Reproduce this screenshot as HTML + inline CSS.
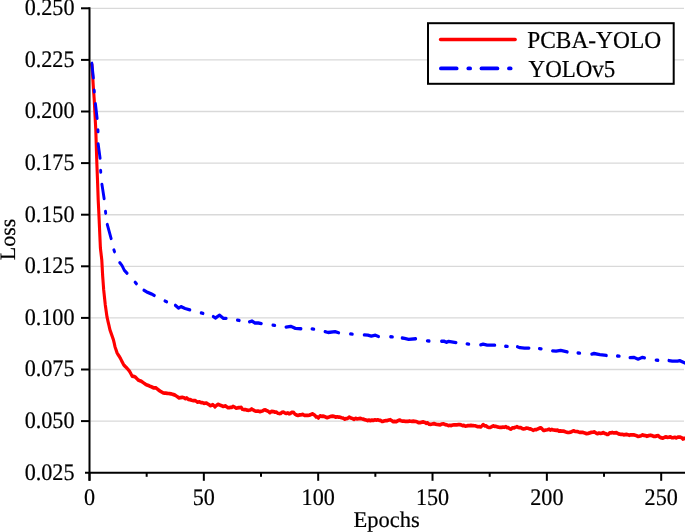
<!DOCTYPE html>
<html><head><meta charset="utf-8"><style>html,body{margin:0;padding:0;background:#fff;width:685px;height:532px;overflow:hidden}text{font-family:"Liberation Serif",serif;fill:#000;stroke:#000;stroke-width:0.2px;text-rendering:geometricPrecision}</style></head>
<body>
<svg width="685" height="532" viewBox="0 0 685 532" style="position:absolute;left:0;top:0;filter:blur(0.45px)">
<rect width="685" height="532" fill="#fff"/>
<line x1="90.5" y1="421.10" x2="684" y2="421.10" stroke="#d9d9d9" stroke-width="1.35"/>
<line x1="90.5" y1="369.50" x2="684" y2="369.50" stroke="#d9d9d9" stroke-width="1.35"/>
<line x1="90.5" y1="317.90" x2="684" y2="317.90" stroke="#d9d9d9" stroke-width="1.35"/>
<line x1="90.5" y1="266.30" x2="684" y2="266.30" stroke="#d9d9d9" stroke-width="1.35"/>
<line x1="90.5" y1="214.70" x2="684" y2="214.70" stroke="#d9d9d9" stroke-width="1.35"/>
<line x1="90.5" y1="163.10" x2="684" y2="163.10" stroke="#d9d9d9" stroke-width="1.35"/>
<line x1="90.5" y1="111.50" x2="684" y2="111.50" stroke="#d9d9d9" stroke-width="1.35"/>
<line x1="90.5" y1="59.90" x2="684" y2="59.90" stroke="#d9d9d9" stroke-width="1.35"/>
<line x1="90.5" y1="8.30" x2="684" y2="8.30" stroke="#d9d9d9" stroke-width="1.35"/>
<g transform="scale(1,1.2)">
<path d="M91.90,53.75 L91.99,54.84 L92.08,55.94 L92.16,57.03 L92.25,58.12 L92.34,59.22 L92.42,60.31 L92.51,61.41 L92.60,62.50 L92.68,63.58 L92.76,64.67 L92.84,65.75 L92.92,66.83 L93.00,67.92 L93.08,69.00 L93.16,70.08 L93.24,71.17 L93.32,72.25 L93.40,73.33 L93.49,74.44 L93.59,75.56 L93.68,76.67 L93.78,77.78 L93.87,78.89 L93.97,80.00 L94.06,81.11 L94.16,82.22 L94.25,83.33 L94.32,84.47 L94.39,85.61 L94.45,86.74 L94.52,87.88 L94.59,89.02 L94.66,90.15 L94.73,91.29 L94.80,92.42 L94.86,93.56 L94.93,94.70 L95.00,95.83 L95.07,96.97 L95.15,98.11 L95.22,99.24 L95.29,100.38 L95.36,101.52 L95.44,102.65 L95.51,103.79 L95.58,104.92 L95.65,106.06 L95.73,107.20 L95.80,108.33 L95.84,109.44 L95.88,110.56 L95.92,111.67 L95.97,112.78 L96.01,113.89 L96.05,115.00 L96.09,116.11 L96.13,117.22 L96.17,118.33 L96.22,119.44 L96.26,120.56 L96.30,121.67 L96.34,122.78 L96.38,123.89 L96.42,125.00 L96.47,126.11 L96.51,127.22 L96.55,128.33 L96.59,129.44 L96.63,130.56 L96.67,131.67 L96.72,132.78 L96.76,133.89 L96.80,135.00 L96.85,136.15 L96.91,137.31 L96.96,138.46 L97.02,139.62 L97.07,140.77 L97.12,141.92 L97.18,143.08 L97.23,144.23 L97.28,145.38 L97.34,146.54 L97.39,147.69 L97.45,148.85 L97.50,150.00 L97.55,151.11 L97.59,152.22 L97.64,153.33 L97.69,154.44 L97.73,155.56 L97.78,156.67 L97.83,157.78 L97.87,158.89 L97.92,160.00 L97.97,161.11 L98.01,162.22 L98.06,163.33 L98.11,164.44 L98.15,165.56 L98.20,166.67 L98.27,167.78 L98.33,168.89 L98.40,170.00 L98.47,171.11 L98.53,172.22 L98.60,173.33 L98.67,174.44 L98.73,175.56 L98.80,176.67 L98.86,177.82 L98.92,178.97 L98.98,180.13 L99.05,181.28 L99.11,182.44 L99.17,183.59 L99.23,184.74 L99.29,185.90 L99.35,187.05 L99.42,188.21 L99.48,189.36 L99.54,190.51 L99.60,191.67 L99.66,192.82 L99.72,193.97 L99.78,195.13 L99.85,196.28 L99.91,197.44 L99.97,198.59 L100.03,199.74 L100.09,200.90 L100.15,202.05 L100.22,203.21 L100.28,204.36 L100.34,205.51 L100.40,206.67 L100.56,207.78 L100.71,208.89 L100.87,210.00 L101.02,211.11 L101.18,212.22 L101.33,213.33 L101.49,214.44 L101.64,215.56 L101.80,216.67 L101.87,217.80 L101.95,218.94 L102.02,220.08 L102.09,221.21 L102.16,222.35 L102.24,223.48 L102.31,224.62 L102.38,225.76 L102.45,226.89 L102.53,228.03 L102.60,229.17 L102.70,230.30 L102.80,231.44 L102.90,232.58 L103.00,233.71 L103.10,234.85 L103.20,235.98 L103.30,237.12 L103.40,238.26 L103.50,239.39 L103.60,240.53 L103.70,241.67 L103.85,242.80 L103.99,243.94 L104.14,245.08 L104.28,246.21 L104.43,247.35 L104.57,248.48 L104.72,249.62 L104.86,250.76 L105.01,251.89 L105.15,253.03 L105.30,254.17 L105.49,255.28 L105.68,256.39 L105.87,257.50 L106.06,258.61 L106.24,259.72 L106.43,260.83 L106.62,261.94 L106.81,263.06 L107.00,264.17 L107.30,265.25 L107.60,266.33 L107.90,267.42 L108.20,268.50 L108.50,269.58 L108.80,270.67 L109.10,271.75 L109.40,272.83 L109.70,273.92 L110.00,275.00 L110.44,276.04 L110.88,277.08 L111.31,278.12 L111.75,279.17 L112.19,280.21 L112.62,281.25 L113.06,282.29 L113.50,283.33 L113.82,284.52 L114.14,285.70 L114.46,286.88 L114.78,288.07 L115.10,289.25 L115.60,290.48 L116.10,291.71 L116.60,292.94 L117.10,294.17 L117.92,295.27 L118.75,296.38 L119.58,297.48 L120.40,298.58 L121.06,299.68 L121.72,300.78 L122.38,301.88 L123.04,302.98 L123.70,304.08 L124.80,305.00 L125.90,305.92 L127.00,306.83 L127.87,307.72 L128.73,308.61 L129.60,309.50 L130.25,310.48 L130.90,311.46 L131.55,312.44 L132.20,313.42 L133.55,313.67 L134.90,313.92 L136.00,314.83 L137.10,315.75 L138.20,316.67 L139.80,317.21 L141.40,317.75 L142.73,318.56 L144.07,319.36 L145.40,320.17 L146.93,320.75 L148.47,321.33 L150.00,321.92 L151.30,322.36 L152.60,322.81 L153.90,323.25 L155.90,323.25 L157.00,323.97 L158.10,324.69 L159.20,325.42 L160.53,326.08 L161.87,326.75 L163.20,327.42 L164.50,327.54 L165.80,327.67 L167.10,327.79 L168.40,327.92 L169.70,328.04 L171.00,328.17 L172.33,328.53 L173.67,328.89 L175.00,329.25 L176.30,330.00 L177.60,330.75 L178.90,331.50 L180.60,331.29 L182.30,331.08 L183.80,331.42 L185.30,332.23 L186.75,331.61 L188.20,332.76 L189.95,333.03 L191.70,333.56 L193.45,333.91 L195.20,333.78 L197.50,335.20 L199.25,334.80 L201.00,335.53 L202.45,335.51 L203.90,336.08 L206.30,335.85 L207.67,336.51 L209.03,337.17 L210.40,338.08 L212.70,337.28 L213.85,337.94 L215.00,339.06 L216.50,337.83 L218.00,336.92 L220.30,337.69 L221.75,338.21 L223.20,338.72 L225.50,338.29 L226.70,338.96 L227.90,339.78 L229.10,339.77 L230.43,339.44 L231.77,339.40 L233.10,338.63 L234.60,339.27 L236.10,340.04 L237.43,339.86 L238.77,339.63 L240.10,339.66 L241.27,339.51 L242.43,341.07 L243.60,341.28 L245.40,341.24 L247.20,341.81 L248.65,341.91 L250.10,341.65 L251.80,340.83 L253.25,341.67 L254.70,342.24 L256.02,342.70 L257.35,342.67 L258.68,342.67 L260.00,343.01 L262.30,342.54 L263.80,341.74 L265.30,341.47 L266.45,342.09 L267.60,342.53 L268.75,343.03 L269.90,343.89 L271.65,342.75 L273.40,342.99 L274.88,343.45 L276.35,343.45 L277.82,344.35 L279.30,344.61 L280.67,344.59 L282.03,343.53 L283.40,343.37 L284.85,344.10 L286.30,344.56 L287.75,344.14 L289.20,344.88 L290.37,344.49 L291.53,343.69 L292.70,343.62 L293.87,343.89 L295.03,345.17 L296.20,345.76 L297.95,346.20 L299.70,345.74 L301.27,345.66 L302.83,345.35 L304.40,346.14 L306.15,346.05 L307.90,346.18 L309.47,345.93 L311.03,345.41 L312.60,344.85 L313.76,345.50 L314.92,346.18 L316.08,347.37 L317.24,347.39 L318.40,348.28 L319.25,347.38 L320.10,346.55 L321.47,346.94 L322.83,346.82 L324.20,347.01 L325.70,347.58 L327.20,348.03 L328.50,347.68 L329.80,347.30 L331.10,346.93 L332.40,346.82 L334.15,347.03 L335.90,347.61 L337.27,347.31 L338.63,347.61 L340.00,347.64 L341.57,348.13 L343.13,348.39 L344.70,349.26 L346.23,348.79 L347.77,348.57 L349.30,347.52 L350.87,348.37 L352.43,348.75 L354.00,349.46 L355.57,348.58 L357.13,349.16 L358.70,348.92 L360.15,348.61 L361.60,348.94 L363.05,349.23 L364.50,349.68 L365.98,349.98 L367.45,350.48 L368.92,350.12 L370.40,350.51 L371.93,350.15 L373.47,350.30 L375.00,349.84 L376.37,350.19 L377.73,349.83 L379.10,350.25 L380.47,350.31 L381.83,351.06 L383.20,351.07 L384.60,350.66 L386.00,350.44 L387.40,350.48 L388.80,350.02 L390.20,349.78 L391.68,350.51 L393.15,351.37 L394.62,351.13 L396.10,351.45 L397.85,350.69 L399.60,350.02 L401.00,350.62 L402.40,350.87 L403.80,350.84 L405.20,351.08 L406.60,351.19 L407.95,351.20 L409.30,350.81 L410.65,351.06 L412.00,351.19 L413.35,350.98 L414.70,351.06 L416.02,351.27 L417.35,351.67 L418.68,352.24 L420.00,352.24 L421.75,351.84 L423.50,351.61 L424.90,352.05 L426.30,352.78 L427.70,352.38 L429.10,353.55 L430.50,353.72 L432.25,353.36 L434.00,353.03 L435.57,353.42 L437.13,353.74 L438.70,353.87 L440.27,353.99 L441.83,353.32 L443.40,353.13 L445.15,353.85 L446.90,354.04 L448.35,354.67 L449.80,354.40 L451.25,354.67 L452.70,354.16 L454.10,354.01 L455.50,354.07 L456.90,354.14 L458.30,353.76 L459.70,353.92 L461.10,354.08 L462.50,354.71 L463.90,354.43 L465.30,355.08 L466.70,354.93 L468.10,354.74 L469.50,354.68 L470.90,354.46 L472.30,354.65 L473.70,354.74 L475.10,354.79 L476.50,355.15 L477.90,355.63 L479.30,355.56 L480.70,355.80 L481.90,354.89 L483.10,353.79 L484.55,354.86 L486.00,354.80 L487.45,355.88 L488.90,356.25 L490.47,356.12 L492.03,355.46 L493.60,354.89 L494.88,355.38 L496.16,355.39 L497.44,355.69 L498.72,355.96 L500.00,356.14 L501.45,356.10 L502.90,355.93 L504.35,356.06 L505.80,355.58 L507.12,356.36 L508.45,356.43 L509.78,357.28 L511.10,357.63 L512.55,356.48 L514.00,356.58 L515.45,356.12 L516.90,355.51 L518.20,356.22 L519.50,356.34 L520.80,356.39 L522.10,357.09 L523.40,357.47 L524.93,357.27 L526.47,356.71 L528.00,356.89 L529.33,357.40 L530.65,357.44 L531.97,358.03 L533.30,358.65 L534.75,358.03 L536.20,358.07 L537.77,357.41 L539.33,356.82 L540.90,356.57 L542.07,357.38 L543.23,358.56 L544.40,358.63 L545.93,358.36 L547.47,358.12 L549.00,357.66 L550.42,358.37 L551.84,357.88 L553.26,358.34 L554.68,358.37 L556.10,358.64 L557.50,358.43 L558.90,359.31 L560.30,359.07 L561.70,359.31 L563.10,359.28 L564.55,359.52 L566.00,360.01 L567.45,360.29 L568.90,360.43 L570.47,360.12 L572.03,359.58 L573.60,359.01 L574.88,359.41 L576.16,359.57 L577.44,359.63 L578.72,360.04 L580.00,360.38 L581.57,360.33 L583.13,360.39 L584.70,360.83 L586.45,361.36 L588.20,361.12 L589.73,360.73 L591.27,360.30 L592.80,360.20 L594.37,359.90 L595.93,360.84 L597.50,361.44 L598.98,360.85 L600.45,361.26 L601.92,360.92 L603.40,360.54 L604.57,361.21 L605.73,361.31 L606.90,362.03 L608.27,361.95 L609.63,360.68 L611.00,360.68 L612.33,360.37 L613.67,360.76 L615.00,360.68 L616.48,360.52 L617.95,361.28 L619.42,361.84 L620.90,361.90 L622.27,361.91 L623.63,362.36 L625.00,362.18 L626.47,362.02 L627.93,362.34 L629.40,362.78 L630.87,362.31 L632.33,362.47 L633.80,362.44 L635.23,362.73 L636.67,363.10 L638.10,363.70 L639.57,363.44 L641.03,363.09 L642.50,362.40 L643.97,362.85 L645.43,363.01 L646.90,363.57 L648.65,363.02 L650.40,362.67 L652.15,363.07 L653.90,363.63 L655.37,363.64 L656.83,363.24 L658.30,363.03 L659.60,364.16 L660.90,364.73 L662.65,365.18 L664.40,364.47 L665.92,364.10 L667.45,364.43 L668.98,364.33 L670.50,364.09 L671.97,364.79 L673.43,364.62 L674.90,364.37 L676.37,364.91 L677.83,364.22 L679.30,364.35 L680.47,364.35 L681.63,364.72 L682.80,365.86 L684.20,365.25 L685.60,365.55 L687.00,365.50" fill="none" stroke="#ff0000" stroke-width="3.1" stroke-linejoin="round" stroke-linecap="round"/>
</g>
<g transform="scale(1,1.15)"><path d="M91.82,55.04 L93.38,67.74 M94.18,78.35 L94.32,79.91 M95.43,90.25 L97.12,102.96 M97.97,112.87 L98.03,114.43 M98.15,125.08 L100.10,137.53 M100.64,148.13 L100.76,149.69 M101.92,160.29 L104.13,172.75 M105.50,183.83 L105.70,185.39 M107.29,195.27 L111.11,207.34 M113.91,217.35 L114.49,218.83 M119.78,228.41 L122.00,230.87 L124.30,234.96 L127.05,237.56 M135.18,245.52 L136.42,246.65 M143.96,252.46 L147.70,254.26 L151.20,255.48 L154.32,256.87 M164.98,261.77 L166.62,262.41 M175.43,265.50 L178.60,267.91 L181.00,266.61 L185.10,268.26 L189.84,269.47 M201.23,272.14 L202.97,272.55 M213.32,275.30 L215.50,276.52 L219.50,274.00 L223.40,276.78 L226.20,276.78 M237.41,278.38 L239.19,278.66 M249.45,279.80 L251.90,279.13 L254.90,280.87 L258.40,280.87 L261.32,281.38 M272.91,282.75 L274.69,282.99 M285.98,284.45 L290.70,283.74 L295.40,285.57 L301.00,285.86 M312.01,285.99 L313.79,286.18 M325.06,288.42 L328.10,289.13 L335.10,288.35 L338.65,289.36 M350.50,290.38 L352.30,290.49 M364.20,291.19 L367.80,291.39 L371.30,292.35 L375.40,291.48 L378.49,292.66 M390.60,292.84 L392.40,292.90 M402.18,293.90 L404.60,294.26 L408.60,295.04 L415.70,294.59 M427.31,296.35 L429.09,296.52 M441.50,296.73 L443.90,296.61 L446.30,297.65 L448.60,296.87 L456.01,297.93 M467.01,299.05 L468.79,299.21 M480.66,299.91 L483.10,299.30 L487.20,300.17 L494.80,300.17 M505.50,301.09 L507.30,301.17 M517.42,301.49 L519.90,302.35 L524.50,302.70 L529.00,302.70 M539.41,303.12 L541.19,303.32 M552.50,305.12 L556.10,305.39 L560.70,304.70 L567.23,306.04 M577.90,306.97 L579.70,307.12 M591.77,307.86 L594.00,307.39 L599.90,308.43 L606.31,309.10 M617.40,309.58 L619.20,309.73 M630.00,310.97 L633.80,310.70 L638.10,312.35 L642.50,310.70 L644.53,311.15 M656.10,313.14 L657.90,313.29 M668.98,313.50 L672.30,314.09 L677.60,314.09 L679.70,313.57 L685.99,315.96" fill="none" stroke="#0000ff" stroke-width="2.9" stroke-linejoin="round" stroke-linecap="round"/></g>
<line x1="89.5" y1="7.300000000000001" x2="89.5" y2="480.8" stroke="#000" stroke-width="2"/>
<line x1="85.0" y1="472.8" x2="685" y2="472.8" stroke="#000" stroke-width="2"/>
<text transform="translate(74.5,479.50) scale(0.985,1.06)" text-anchor="end" font-size="22.5">0.025</text>
<line x1="81.0" y1="421.10" x2="89.5" y2="421.10" stroke="#000" stroke-width="2"/>
<text transform="translate(74.5,427.90) scale(0.985,1.06)" text-anchor="end" font-size="22.5">0.050</text>
<line x1="81.0" y1="369.50" x2="89.5" y2="369.50" stroke="#000" stroke-width="2"/>
<text transform="translate(74.5,376.30) scale(0.985,1.06)" text-anchor="end" font-size="22.5">0.075</text>
<line x1="81.0" y1="317.90" x2="89.5" y2="317.90" stroke="#000" stroke-width="2"/>
<text transform="translate(74.5,324.70) scale(0.985,1.06)" text-anchor="end" font-size="22.5">0.100</text>
<line x1="81.0" y1="266.30" x2="89.5" y2="266.30" stroke="#000" stroke-width="2"/>
<text transform="translate(74.5,273.10) scale(0.985,1.06)" text-anchor="end" font-size="22.5">0.125</text>
<line x1="81.0" y1="214.70" x2="89.5" y2="214.70" stroke="#000" stroke-width="2"/>
<text transform="translate(74.5,221.50) scale(0.985,1.06)" text-anchor="end" font-size="22.5">0.150</text>
<line x1="81.0" y1="163.10" x2="89.5" y2="163.10" stroke="#000" stroke-width="2"/>
<text transform="translate(74.5,169.90) scale(0.985,1.06)" text-anchor="end" font-size="22.5">0.175</text>
<line x1="81.0" y1="111.50" x2="89.5" y2="111.50" stroke="#000" stroke-width="2"/>
<text transform="translate(74.5,118.30) scale(0.985,1.06)" text-anchor="end" font-size="22.5">0.200</text>
<line x1="81.0" y1="59.90" x2="89.5" y2="59.90" stroke="#000" stroke-width="2"/>
<text transform="translate(74.5,66.70) scale(0.985,1.06)" text-anchor="end" font-size="22.5">0.225</text>
<line x1="81.0" y1="8.30" x2="89.5" y2="8.30" stroke="#000" stroke-width="2"/>
<text transform="translate(74.5,15.10) scale(0.985,1.06)" text-anchor="end" font-size="22.5">0.250</text>
<line x1="89.50" y1="472.8" x2="89.50" y2="480.80" stroke="#000" stroke-width="2"/>
<text transform="translate(89.50,504.5) scale(0.985,1.06)" text-anchor="middle" font-size="22.5">0</text>
<line x1="146.67" y1="472.8" x2="146.67" y2="476.80" stroke="#000" stroke-width="2"/>
<line x1="203.84" y1="472.8" x2="203.84" y2="480.80" stroke="#000" stroke-width="2"/>
<text transform="translate(203.84,504.5) scale(0.985,1.06)" text-anchor="middle" font-size="22.5">50</text>
<line x1="261.01" y1="472.8" x2="261.01" y2="476.80" stroke="#000" stroke-width="2"/>
<line x1="318.18" y1="472.8" x2="318.18" y2="480.80" stroke="#000" stroke-width="2"/>
<text transform="translate(318.18,504.5) scale(0.985,1.06)" text-anchor="middle" font-size="22.5">100</text>
<line x1="375.35" y1="472.8" x2="375.35" y2="476.80" stroke="#000" stroke-width="2"/>
<line x1="432.52" y1="472.8" x2="432.52" y2="480.80" stroke="#000" stroke-width="2"/>
<text transform="translate(432.52,504.5) scale(0.985,1.06)" text-anchor="middle" font-size="22.5">150</text>
<line x1="489.69" y1="472.8" x2="489.69" y2="476.80" stroke="#000" stroke-width="2"/>
<line x1="546.86" y1="472.8" x2="546.86" y2="480.80" stroke="#000" stroke-width="2"/>
<text transform="translate(546.86,504.5) scale(0.985,1.06)" text-anchor="middle" font-size="22.5">200</text>
<line x1="604.03" y1="472.8" x2="604.03" y2="476.80" stroke="#000" stroke-width="2"/>
<line x1="661.20" y1="472.8" x2="661.20" y2="480.80" stroke="#000" stroke-width="2"/>
<text transform="translate(661.20,504.5) scale(0.985,1.06)" text-anchor="middle" font-size="22.5">250</text>
<text x="386.7" y="527.1" text-anchor="middle" font-size="22.5">Epochs</text>
<text transform="translate(15,239.4) rotate(-90)" x="0" y="0" text-anchor="middle" font-size="22">Loss</text>
<rect x="428" y="23.2" width="245.7" height="60.6" fill="#fff" stroke="#000" stroke-width="2"/>
<line x1="440.5" y1="39.5" x2="515.2" y2="39.5" stroke="#ff0000" stroke-width="3.3" stroke-linecap="round"/>
<line x1="440.90" y1="68.4" x2="456.65" y2="68.4" stroke="#0000ff" stroke-width="3.7" stroke-linecap="round"/>
<line x1="468.35" y1="68.4" x2="470.15" y2="68.4" stroke="#0000ff" stroke-width="3.7" stroke-linecap="round"/>
<line x1="481.45" y1="68.4" x2="497.45" y2="68.4" stroke="#0000ff" stroke-width="3.7" stroke-linecap="round"/>
<line x1="508.95" y1="68.4" x2="510.65" y2="68.4" stroke="#0000ff" stroke-width="3.7" stroke-linecap="round"/>
<text transform="translate(527.2,47.5) scale(1,1.04)" font-size="23.4">PCBA-YOLO</text>
<text transform="translate(528.6,76.7) scale(0.98,1.04)" font-size="23.4">YOLOv5</text>
</svg>
</body></html>
